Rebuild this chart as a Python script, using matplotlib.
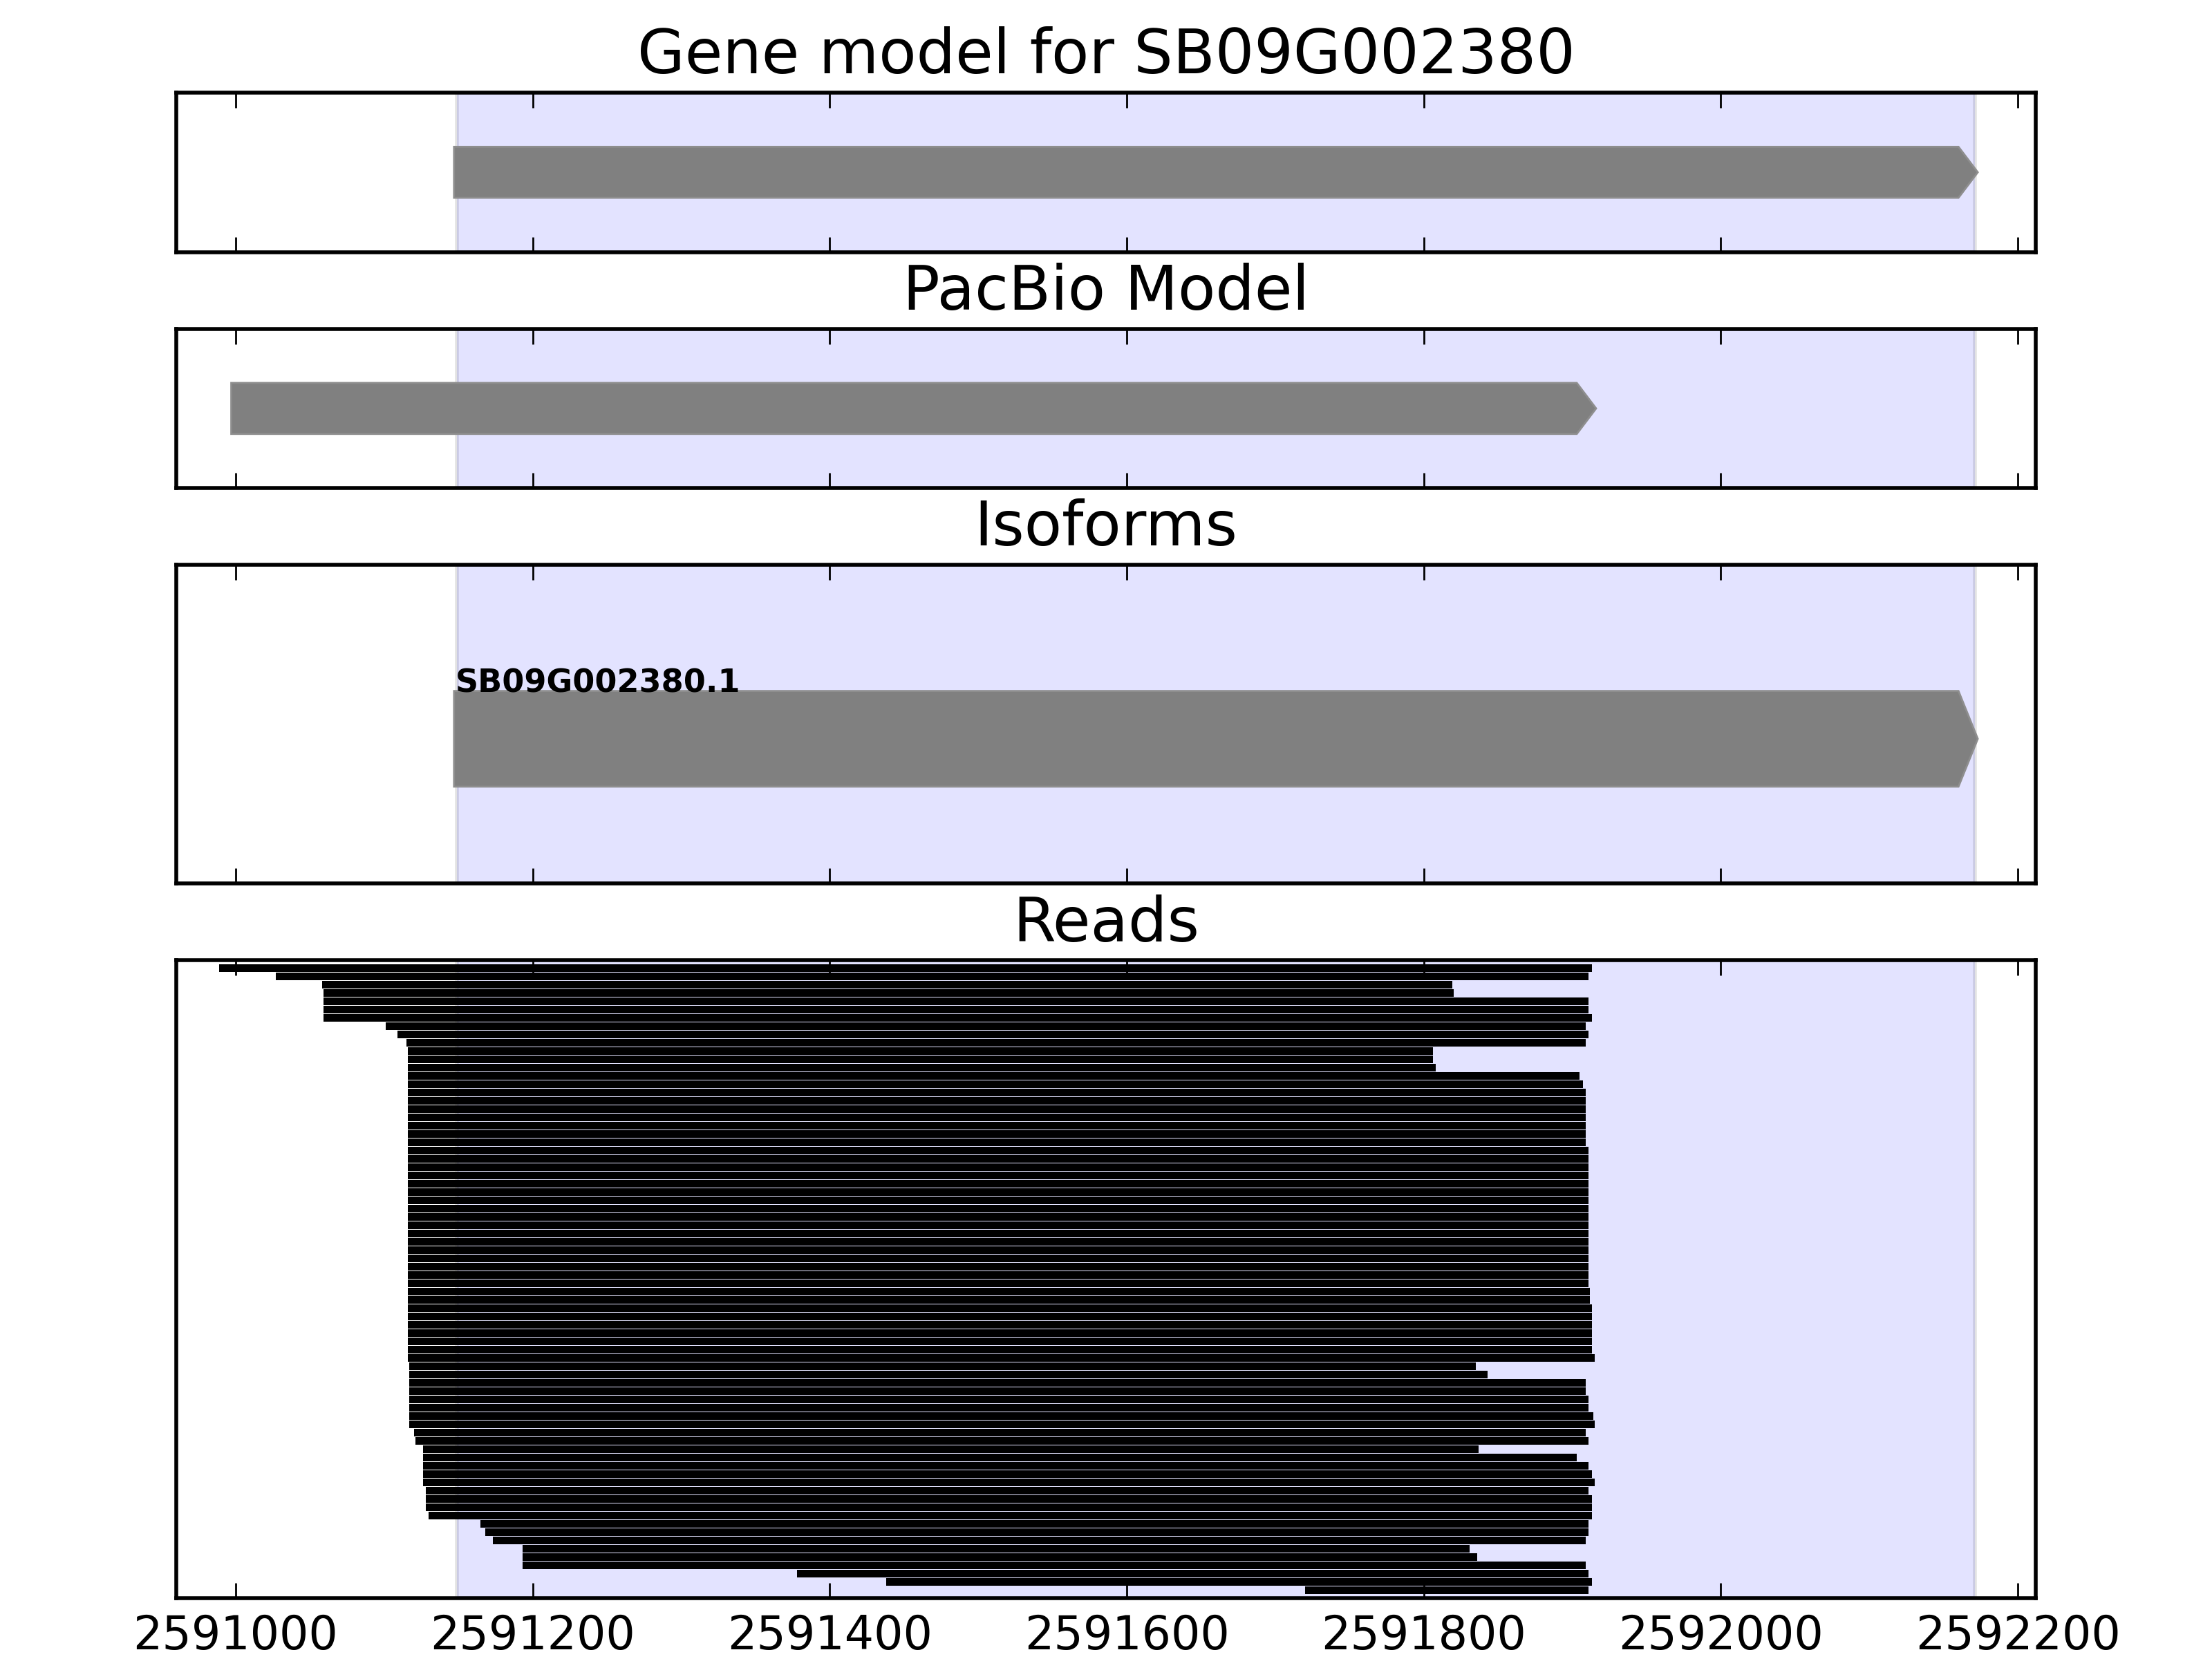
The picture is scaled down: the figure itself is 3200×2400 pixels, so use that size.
import matplotlib
matplotlib.use("Agg")
import matplotlib.pyplot as plt
from matplotlib.patches import Polygon
import numpy as np

plt.style.use("classic")
plt.rcParams["figure.facecolor"] = "white"
plt.rcParams["savefig.facecolor"] = "white"
plt.rcParams["font.family"] = ["DejaVu Sans"]

# ---------------- data ----------------
gene_name = "SB09G002380"
gene_start, gene_end = 2591147, 2592173
highlight = (2591149, 2592171)
pacbio_start, pacbio_end = 2590997, 2591916
isoform_names = ["SB09G002380.1"]
isoform_starts = [2591147]
isoform_ends = [2592173]

read_starts = [
    2590989, 2591027, 2591058, 2591059, 2591059, 2591059, 2591059, 2591101,
    2591109, 2591115] + [2591116] * 38 + [2591117] * 8 + [
    2591120, 2591121] + [2591126] * 5 + [2591128] * 3 + [
    2591130, 2591165, 2591168, 2591173, 2591193, 2591193, 2591193,
    2591378, 2591438, 2591720]
read_ends = [
    2591913, 2591911, 2591819, 2591820, 2591911, 2591911, 2591913, 2591909,
    2591911, 2591909, 2591806, 2591806, 2591808, 2591905, 2591907] + \
    [2591909] * 7 + [2591911] * 17 + [2591912, 2591912] + [2591913] * 6 + [
    2591915, 2591835, 2591843, 2591909, 2591909, 2591911, 2591911, 2591914,
    2591915, 2591909, 2591911, 2591837, 2591903, 2591911, 2591913, 2591915,
    2591911, 2591913, 2591913, 2591913, 2591911, 2591911, 2591909, 2591831,
    2591836, 2591909, 2591911, 2591913, 2591911]

xticks = [2591000, 2591200, 2591400, 2591600, 2591800, 2592000, 2592200]
xlim = (2590960, 2592212)
panel_titles = ["Gene model for " + gene_name, "PacBio Model", "Isoforms", "Reads"]

HEAD = 13


def arrow(ax, start, end, yc, h):
    body = max(start, end - HEAD)
    pts = [(start, yc - h / 2), (body, yc - h / 2), (end, yc),
           (body, yc + h / 2), (start, yc + h / 2)]
    ax.add_patch(Polygon(pts, closed=True, facecolor="#808080",
                         edgecolor="#8e8e8e", linewidth=0.5, zorder=3))


fig = plt.figure(figsize=(8, 6), dpi=400)
gs = fig.add_gridspec(4, 1, height_ratios=[1, 1, 2, 4], left=0.0797,
                      right=0.9203, top=0.9442, bottom=0.0367, hspace=0.2407)
axes = [fig.add_subplot(gs[i]) for i in range(4)]

for i, ax in enumerate(axes):
    ax.axvspan(highlight[0], highlight[1], facecolor="blue", edgecolor="black",
               alpha=0.11, linewidth=1.0, zorder=0)
    ax.set_xlim(*xlim)
    ax.set_xticks(xticks)
    ax.set_yticks([])
    ax.ticklabel_format(axis="x", useOffset=False, style="plain")
    ax.set_title(panel_titles[i], fontsize=16)
    ax.tick_params(axis="x", direction="in", top=True, bottom=True,
                   length=4, width=0.5, labelsize=12)
    if i < 3:
        ax.tick_params(axis="x", labelbottom=False)
        ax.set_ylim(0, 1)

arrow(axes[0], gene_start, gene_end, 0.5, 0.32)
arrow(axes[1], pacbio_start, pacbio_end, 0.5, 0.32)
for name, s, e in zip(isoform_names, isoform_starts, isoform_ends):
    arrow(axes[2], s, e, 0.4545, 0.30)
    axes[2].text(s + 1, 0.4545 + 0.15 - 0.005, name, fontsize=8.3,
                 fontweight="bold", ha="left", va="baseline", zorder=4)

n = len(read_starts)
ys = np.arange(n)
widths = np.array(read_ends) - np.array(read_starts)
axes[3].barh(ys, widths, left=read_starts, height=0.9, color="black",
             edgecolor="none", linewidth=0, zorder=3)
axes[3].set_ylim(n - 0.08, -0.94)

fig.savefig("out.png", dpi=400, facecolor="white")
